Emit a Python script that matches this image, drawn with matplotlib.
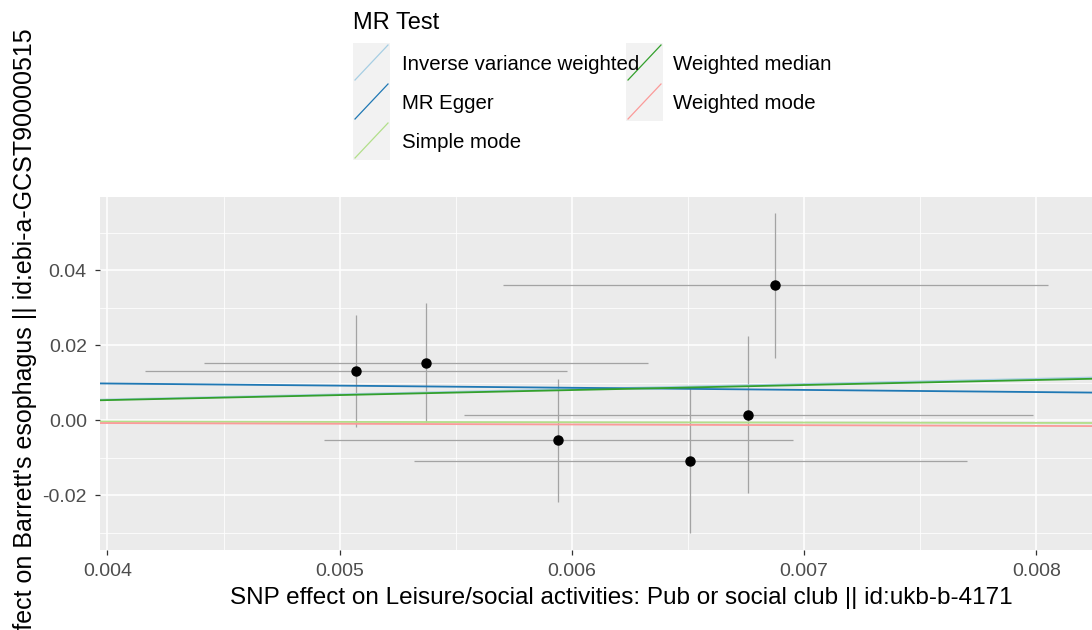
import matplotlib
matplotlib.use("Agg")
import matplotlib.pyplot as plt
from matplotlib.patches import Rectangle
from matplotlib.lines import Line2D
import numpy as np

plt.rcParams['font.family'] = ['Liberation Sans', 'DejaVu Sans']

# ---- data ----
snp_x = [0.005071, 0.005371, 0.005941, 0.006510, 0.006759, 0.006877]
snp_y = [0.0131, 0.0153, -0.0053, -0.0108, 0.0015, 0.0360]
snp_x_se = [0.000908, 0.000957, 0.00101, 0.00119, 0.001225, 0.001174]
snp_y_se = [0.0149, 0.0159, 0.0164, 0.0193, 0.0209, 0.0193]

methods = ["Inverse variance weighted", "MR Egger", "Simple mode",
           "Weighted median", "Weighted mode"]
slopes = [1.38, -0.571, -0.09, 1.34, -0.19]
intercepts = [0.0, 0.01207, 0.0, 0.0, 0.0]
colors = ["#A6CEE3", "#1F78B4", "#B2DF8A", "#33A02C", "#FB9A99"]

x_ticks = [0.004, 0.005, 0.006, 0.007, 0.008]
y_ticks = [-0.02, 0.00, 0.02, 0.04]
x_label = "SNP effect on Leisure/social activities: Pub or social club || id:ukb-b-4171"
y_label = "SNP effect on Barrett's esophagus || id:ebi-a-GCST90000515"
legend_title = "MR Test"

W, H = 1092, 630
fig = plt.figure(figsize=(W / 100, H / 100), dpi=100)
ax = fig.add_axes([100 / W, 80 / H, 992 / W, 353 / H])

ax.set_facecolor("#EBEBEB")
for s in ax.spines.values():
    s.set_visible(False)

xmin, xmax = 0.003968, 0.00824
ymin, ymax = -0.0346, 0.0595

ax.set_xticks(x_ticks)
ax.set_xticklabels([f"{v:.3f}" for v in x_ticks])
ax.set_yticks(y_ticks)
ax.set_yticklabels([f"{v:.2f}" for v in y_ticks])
ax.set_xticks([v + 0.0005 for v in x_ticks[:-1]], minor=True)
ax.set_yticks([-0.03, -0.01, 0.01, 0.03, 0.05], minor=True)
ax.grid(which="major", color="white", lw=1.1)
ax.grid(which="minor", color="white", lw=0.55)
ax.set_axisbelow(True)
ax.tick_params(which="major", length=3.5, width=0.9, color="#333333",
               labelsize=14, labelcolor="#4D4D4D", pad=6)
ax.tick_params(which="minor", length=0)

# error bars
ax.errorbar(snp_x, snp_y, yerr=snp_y_se, fmt="none", ecolor="#A3A3A3",
            elinewidth=0.9, capsize=0, zorder=2)
ax.errorbar(snp_x, snp_y, xerr=snp_x_se, fmt="none", ecolor="#A3A3A3",
            elinewidth=0.9, capsize=0, zorder=2)
ax.plot(snp_x, snp_y, "o", color="black", ms=6.5, zorder=3)

# regression lines
xs = np.array([xmin, xmax])
for m, b, a, c in zip(methods, slopes, intercepts, colors):
    ax.plot(xs, a + b * xs, color=c, lw=1.3, zorder=4)

ax.set_xlim(xmin, xmax)
ax.set_ylim(ymin, ymax)

ax.set_xlabel(x_label, fontsize=17.5, color="black")
ax.xaxis.set_label_coords((621 - 100) / 992, -(598 - 550) / 353)
ax.xaxis.label.set_va("center")
fig.text(25 / W, 1 - 28 / H, y_label, rotation=90, ha="center", va="top",
         fontsize=18, color="black")

# legend (manual, ggplot style)
fig.text(353 / W, 1 - 23 / H, legend_title, fontsize=17, ha="left",
         va="center", color="black")
key_w, key_h = 37, 39
col_x = [353, 626]
lab_x = [402, 673]
row_top = [43, 82, 121]
for i, (m, c) in enumerate(zip(methods, colors)):
    col = 0 if i < 3 else 1
    row = i if i < 3 else i - 3
    x0 = col_x[col]
    y0 = row_top[row]
    fig.add_artist(Rectangle((x0 / W, 1 - (y0 + key_h) / H), key_w / W, key_h / H,
                             transform=fig.transFigure, facecolor="#F2F2F2",
                             edgecolor="none"))
    fig.add_artist(Line2D([(x0 + 2) / W, (x0 + key_w - 2) / W],
                          [1 - (y0 + key_h - 2) / H, 1 - (y0 + 2) / H],
                          transform=fig.transFigure, color=c, lw=0.9))
    fig.text(lab_x[col] / W, 1 - (y0 + key_h / 2 + 2) / H, m, fontsize=14.7,
             ha="left", va="center", color="black")

fig.savefig("out.png", dpi=100)
